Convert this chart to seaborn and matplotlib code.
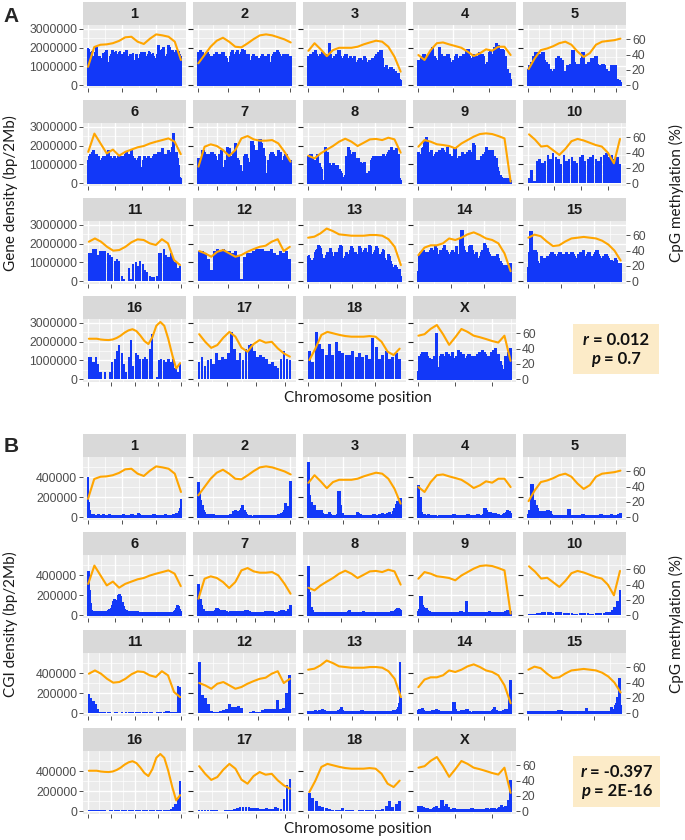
import numpy as np
import pandas as pd
import matplotlib
matplotlib.use("Agg")
import matplotlib.pyplot as plt
import seaborn as sns
from matplotlib.ticker import MaxNLocator
from matplotlib.patches import Rectangle

chroms = ['1', '2', '3', '4', '5', '6', '7', '8', '9', '10',
          '11', '12', '13', '14', '15', '16', '17', '18', 'X']

# ---- Panel A: gene density per 2 Mb bin (units of 100 kb) ----
gene_chr1 = [20,19,16,15,17,16,18,14,13,15, 16,17,20,19,14,12,13,15,10,9, 12,14,17,16,15,13,17,18,12,7,
             6,10,14,15,16,17,18,17,16,15, 17,18,16,15,12,13,17,18,16,14, 11,12,16,17,15,14,18,17,13,9,
             10,15,16,14,13,15,17,12,10,13, 15,16,14,13,11,12,15,16,17,15, 13,12,15,17,10,8,13,15,16,18,
             17,15,13,12,16,17,15,14,12,10, 13,15,16,21,20,18,16,15,17,19, 20,18,15,11,9,13,16,18,21,20,
             17,15,14,16,18,17,12,15,17,18, 16,14,17,18,16,15,13]
gene_chr2 = [17,16,18,17,15,16,14,17,16,15, 6,14,15,16,15,17,16,15,14,16, 17,13,15,14,5,12,15,17,18,16,
             15,17,18,16,15,17,19,18,16,15, 14,16,13,12,15,16,14,15,7,10, 14,15,16,13,15,14,15,16,12,11,
             15,16,17,16,18,17,16,14,15,16, 13,14,16,15,14,15]
gene_chr3 = [15,14,16,15,17,18,16,15,14,16, 17,15,16,14,15,22,16,14,13,15, 16,14,18,15,14,13,15,16,14,12,
             15,13,14,15,12,7,13,14,12,13, 15,14,12,11,13,12,14,13,15,16, 17,15,18,14,8,9,10,8,7,9,
             6,8,7,5,6,3,2]
gene_chr4 = [13,12,14,15,16,14,15,13,16,17, 20,15,14,13,9,20,16,14,15,13, 14,16,14,12,4,13,15,16,14,13,
             15,14,16,13,18,19,15,5,14,16, 15,13,15,17,14,16,15,11,9,12, 17,18,16,15,20,22,21,17,16,19,
             18,15,5,8,6,3]
gene_chr5 = [8,10,12,15,17,17,16,15,17,13, 12,11,8,7,7,8,14,15,14,13, 6,7,10,9,11,18,12,10,11,11,
             14,17,10,11,12,11,14,13,15,11, 10,9,11,10,8,7,6,10,9,10, 3,2,1]
gene_chr6 = [12,14,15,13,16,17,14,13,15,14, 12,7,11,13,14,13,12,14,15,17, 14,13,12,13,14,12,13,11,14,12,
             13,14,9,14,15,16,15,14,13,15, 17,14,13,12,11,10,13,14,6,5, 8,12,14,13,12,14,13,11,9,13,
             14,15,12,14,15,16,14,16,18,15, 14,13,15,14,17,16,14,19,26,15, 14,16,13,9,3,2]
gene_chr7 = [13,12,11,17,16,15,14,15,14,16, 15,14,12,11,15,17,6,8,12,19, 18,14,13,16,21,13,12,9,6,4,
             14,15,13,9,11,22,20,15,17,12, 23,21,18,14,3,5,12,15,16,15, 14,13,17,16,12,10,14,15,13,11,
             12]
gene_chr8 = [14,13,15,13,12,11,12,15,10,8, 7,1,0,19,16,8,10,9,8,10, 9,8,9,7,6,5,3,2,4,14,
             19,17,13,15,16,12,11,13,10,11, 9,10,11,5,4,5,6,12,13,14, 12,13,14,13,12,14,15,13,14,15,
             16,17,19,14,17,16,18,15,2,1]
gene_chr9 = [16,15,10,18,19,22,24,22,15,16, 17,14,7,15,16,14,17,9,18,17, 16,9,19,15,14,13,14,19,18,13,
             12,14,11,16,8,15,14,16,17,15, 16,21,20,12,9,11,12,14,13,15, 16,19,17,14,15,17,13,14,13,8,
             6,4,3,2,2,1,2,1,2,1]
gene_chr10 = [3,7,1,12,13,11,12,15,13,16, 14,13,10,15,12,13,14,12,11,14, 15,12,13,14,15,13,12,14,15,16,
              14,15,13,14,10]
gene_chr11 = [15,15,17,17,14,16,16,16,15,14, 13,11,12,11,3,1,0,7,1,9, 10,8,11,9,6,5,3,2,2,3,
              15,15,17,14,13,15,13,10,7,8]
gene_chr12 = [16,16,15,12,6,16,17,16,17,16, 16,15,16,14,1,13,15,15,16,17, 17,17,16,16,17,15,14,16,15,16,
              12]
gene_chr13 = [13,14,12,10,11,9,10,12,15,16, 17,16,19,18,17,14,12,11,9,12, 14,13,15,12,14,17,15,11,8,12,
              13,15,14,13,15,17,19,18,15,12, 9,10,13,15,14,13,12,14,16,18, 17,14,12,15,13,12,14,16,18,17,
              15,12,13,16,17,15,14,13,15,19, 18,14,12,13,15,14,16,18,17,13, 12,14,13,15,17,16,12,10,9,11,
              14,13,10,8,9,7,5,6,8,7, 4,5,6,3,2]
gene_chr14 = [5,14,15,14,16,15,14,13,15,16, 17,15,16,18,17,14,11,16,15,17, 19,16,15,14,13,15,16,15,11,18,
              14,12,22,27,18,16,15,13,15,18, 19,16,14,13,15,12,11,13,15,16, 20,19,17,15,14,12,13,11,10,13,
              14,12,10,9,7,8,6,7,8,8, 9]
gene_chr15 = [7,15,26,3,15,16,15,10,9,8, 13,12,10,9,12,13,10,14,15,13, 14,12,13,14,15,13,12,14,13,15,
              14,12,13,15,14,13,12,11,14,13, 15,14,16,12,13,14,15,12,11,13, 14,15,16,14,13,12,11,13,12,14,
              13,12,10,11,9,10,12,11,9,8, 9]
gene_chr16 = [12,12,9,12,8,4,0,4,0,4, 9,11,15,18,14,8,4,12,21,7, 14,13,11,11,12,11,16,24,0,1,
              10,11,10,9,11,9,11,6,4,8]
gene_chr17 = [9,12,7,10,11,8,14,10,12,11, 14,25,16,10,14,10,16,18,19,15, 12,13,12,11,8,9,7,6,11,15,
              11,10]
gene_chr18 = [15,9,25,19,16,13,19,13,20,15, 14,13,13,15,12,14,12,13,11,22, 17,11,13,15,11,12,14,11]
gene_chrX = [4,12,13,14,13,14,12,11,8,10, 9,12,24,6,1,12,13,11,12,14, 13,10,12,14,11,8,12,15,14,12,
             13,11,10,12,13,1,12,11,12,10, 13,14,12,15,14,13,11,12,10,14, 13,15,16,12,13,9,7,3,5,12,
             11,14,16]

# ---- Panel B: CGI density per 2 Mb bin (units of 10 kb) ----
cgi_chr1 = [40,14,6,3,2,1,1,1,2,1, 1,0,1,1,1,2,1,1,0,1, 1,1,1,2,1,1,1,0,1,1, 1,2,1,1,1,1,1,1,0,1,
            1,1,1,1,2,1,1,1,1,1, 1,1,2,1,1,1,1,1,1,1, 0,1,1,1,2,2,1,1,1,1, 1,1,1,2,3,2,1,1,1,1,
            1,1,1,1,1,2,1,1,1,1, 0,1,1,1,1,1,2,2,1,1, 1,1,1,1,1,1,0,1,1,1, 1,1,1,2,1,1,1,1,1,1,
            1,1,1,1,1,2,1,2,2,3, 2,3,2,3,5,8,18]
cgi_chr2 = [34,24,16,11,6,4,2,2,1,2, 1,1,2,1,1,1,1,0,1,1, 1,1,1,1,1,1,2,2,1,5, 6,5,5,4,6,8,11,6,4,2,
            1,1,1,0,0,0,1,1,1,1, 1,1,1,1,1,1,1,1,1,1, 1,1,1,1,1,2,1,2,3,4, 6,13,10,4,2,35]
cgi_chr3 = [54,21,14,8,11,6,5,6,6,6, 3,2,1,2,1,4,2,1,1,1, 1,2,25,11,3,1,1,0,1,1, 1,1,1,1,1,4,3,2,1,1,
            1,1,1,1,1,1,1,2,1,1, 1,2,1,3,2,1,1,3,4,1, 2,5,8,12,15,17,18]
cgi_chr4 = [31,19,4,2,2,1,1,2,1,1, 1,1,1,0,0,1,1,1,1,1, 1,1,1,1,1,2,1,1,1,1, 1,1,1,1,1,2,1,1,1,1,
            1,1,2,1,1,1,2,8,6,4, 3,4,3,2,3,2,2,1,1,1, 2,3,4,6,5,3]
cgi_chr5 = [2,6,32,16,11,8,5,5,4,5, 4,6,5,2,1,1,1,1,1,1, 1,1,1,7,1,0,1,1,1,1, 1,2,1,1,1,1,1,1,1,1,
            1,2,1,1,1,1,1,2,1,1, 1,2,3]
cgi_chr6 = [43,24,11,4,3,3,3,3,2,3, 3,3,2,3,3,3,3,3,3,4, 5,6,9,13,15,12,14,13,19,20, 18,12,8,5,4,4,3,3,3,3,
            3,3,2,3,3,3,2,2,2,2, 2,2,2,2,2,2,2,2,2,2, 2,1,2,2,2,2,2,1,2,2, 2,2,2,1,2,2,2,2,2,3,
            4,6,9,8,5,3]
cgi_chr7 = [30,15,9,5,3,3,3,3,3,2, 3,4,6,5,4,4,4,4,3,2, 2,3,3,3,3,3,3,3,3,3, 3,4,4,3,2,2,2,2,2,2,
            2,2,2,2,3,3,3,3,3,2, 2,2,2,3,4,4,3,3,2,5, 9]
cgi_chr8 = [48,22,7,4,2,2,2,2,2,2, 2,2,2,2,2,2,2,2,2,2, 2,2,2,2,2,2,2,2,2,2, 3,4,2,2,2,2,2,1,2,2,
            2,3,2,2,2,2,2,2,2,2, 2,2,2,1,2,2,2,2,2,2, 2,2,3,3,3,4,5,6,5,4]
cgi_chr9 = [3,5,18,9,7,6,6,4,3,2, 2,2,2,2,2,2,2,2,2,2, 2,2,2,2,2,2,2,2,2,2, 2,2,3,2,2,2,13,2,2,2,
            2,2,2,2,2,2,2,2,2,2, 2,2,2,3,2,2,2,2,2,2, 2,2,2,2,2,3,3,4,4,3]
cgi_chr10 = [1,1,1,2,2,3,3,3,3,2, 3,3,3,2,2,2,2,1,1,2, 2,2,2,1,1,2,2,2,2,3, 3,5,8,14,25]
cgi_chr11 = [19,15,12,9,4,1,1,1,1,1, 0,1,1,0,1,0,1,1,1,1, 1,1,1,1,1,1,1,1,0,1, 1,1,1,2,2,1,1,1,27,26]
cgi_chr12 = [51,18,15,9,2,1,1,2,3,4, 9,6,6,7,5,0,0,1,2,1, 1,3,4,4,4,4,13,4,5,20, 38]
cgi_chr13 = [1,1,1,1,1,1,1,1,2,1, 1,1,1,2,2,2,3,2,2,1, 1,1,1,1,1,1,1,1,1,1, 1,1,1,1,2,2,3,5,4,2,
             1,1,1,1,1,1,1,1,1,1, 1,1,1,1,1,1,1,1,1,1, 2,2,1,1,1,1,1,1,1,1, 1,1,1,1,1,1,1,1,1,1,
             1,1,1,1,0,0,1,1,1,1, 1,1,1,1,1,1,2,2,1,2, 3,5,9,51,14]
cgi_chr14 = [2,3,3,4,2,1,1,1,1,1, 1,2,1,2,3,2,1,1,1,1, 1,1,1,1,1,1,1,10,3,1, 0,1,1,2,1,1,2,3,1,1,
             0,0,1,1,1,1,1,1,1,1, 1,1,1,1,1,1,2,3,5,2, 1,1,1,1,1,2,3,2,3,13,32]
cgi_chr15 = [1,1,1,1,0,1,1,1,1,1, 1,1,1,1,1,1,1,1,1,1, 1,1,1,2,2,2,1,1,1,1, 1,1,1,1,1,1,1,1,1,1,
             1,1,1,1,4,1,1,1,1,1, 1,1,1,1,1,1,1,1,1,1, 1,1,1,5,1,3,7,9,15,34,7]
cgi_chr16 = [1,1,1,1,1,1,1,1,0,1, 1,1,1,1,1,1,1,1,1,1, 1,1,1,1,1,1,1,1,1,1, 1,1,1,1,1,2,4,7,12,30]
cgi_chr17 = [1,1,1,1,1,1,1,0,0,1, 1,1,2,3,4,4,4,4,3,3, 3,2,2,3,2,2,4,3,2,12,26,32]
cgi_chr18 = [18,13,10,5,4,3,2,1,1,1, 3,1,1,1,0,1,1,1,1,1, 1,1,2,5,10,4,7,10]
cgi_chrX = [4,3,4,3,2,1,2,1,1,1, 2,3,4,2,1,2,10,4,2,6, 3,1,1,1,2,1,1,1,1,1, 1,1,1,1,1,1,2,1,1,1,
            1,1,1,1,1,1,2,1,1,2, 1,2,1,1,2,3,5,3,2,4, 2,10,30]

# ---- CpG methylation (%) smoothed trend, sampled evenly along each chromosome ----
meth_chr1 = [24,50,53,53.5,55,58,62.7,63.5,57,54,61,66.6,65.3,63.5,57,33]
meth_chr2 = [28.6,39.5,50.4,58.3,62.2,57,50.4,49.6,54.8,60.5,65.3,66.6,65.3,62.7,60,56]
meth_chr3 = [45,55,47,38,46,49,49,49,50.4,53.5,56,58.3,57,50.4,37.3,17.7]
meth_chr4 = [39.5,33,46,55,56,53.5,51.3,49,44,38.2,41.7,47,45.2,50.4,50.4,39.5]
meth_chr5 = [21,35,46,48,51,55,57,53,44,37,42,53,57,58,59,61]
meth_chr6 = [41,65,52,39,44,36,41,44,47,48.7,52,54.4,56.5,58.7,54.4,38]
meth_chr7 = [21.6,47.8,50.9,48.7,43.4,35.6,43.4,58.7,61.8,57.4,55.7,55.7,56.5,52.2,41.3,28.1]
meth_chr8 = [36,32.5,39,44,48.7,54.4,58.3,54.4,48.7,53,57.4,58,56.5,59.6,57.4,40]
meth_chr9 = [47.8,56.5,54.4,51,50,48.7,45.7,52,56.5,61,64.4,65.3,64.4,61.8,58.7,2]
meth_chr10 = [64,57,48,49,43,37,45,55,58,56,53,50,48,40,26,58]
meth_chr11 = [51.7,56,51.7,45,40,40.8,45,51,54.8,54,49.6,47.4,55,49.6,27.7,21]
meth_chr12 = [39.5,36.4,32,38.6,40.8,36.4,32,34.3,38.6,42,45,46.5,51.7,55,39.5,45]
meth_chr13 = [57,58.3,62.7,69,65.7,61.4,60.5,59.6,59.6,59.6,60.5,60.5,59.6,55,45,21]
meth_chr14 = [34,44,47,47,49.6,56,54,57,61.4,64,60.5,56,54,49.6,36.4,13]
meth_chr15 = [57,61,59,52,46,47,52,56,57,58,57,56,53,48,40,27]
meth_chr16 = [53,53,53,52,51.5,51.3,52,54,57,61,64,65.5,63,57,50,46,55,70,75,70,53,32,14,21]
meth_chr17 = [59,49,41,44.7,54.4,62,55.7,41.3,36,46,51.3,47.8,49,40.4,33.8,29.5]
meth_chr18 = [25,40,58,62,60,58,56.5,55.7,55.7,55.7,56.5,55.7,49,36,31.6,40]
meth_chrX = [57,59,66,71,59,45,55,65.8,62,57,55,52.6,50,48,57,24]

gene_density = [gene_chr1, gene_chr2, gene_chr3, gene_chr4, gene_chr5, gene_chr6, gene_chr7,
                gene_chr8, gene_chr9, gene_chr10, gene_chr11, gene_chr12, gene_chr13, gene_chr14,
                gene_chr15, gene_chr16, gene_chr17, gene_chr18, gene_chrX]
cgi_density = [cgi_chr1, cgi_chr2, cgi_chr3, cgi_chr4, cgi_chr5, cgi_chr6, cgi_chr7, cgi_chr8,
               cgi_chr9, cgi_chr10, cgi_chr11, cgi_chr12, cgi_chr13, cgi_chr14, cgi_chr15,
               cgi_chr16, cgi_chr17, cgi_chr18, cgi_chrX]
methylation = [meth_chr1, meth_chr2, meth_chr3, meth_chr4, meth_chr5, meth_chr6, meth_chr7,
               meth_chr8, meth_chr9, meth_chr10, meth_chr11, meth_chr12, meth_chr13, meth_chr14,
               meth_chr15, meth_chr16, meth_chr17, meth_chr18, meth_chrX]

gene_unit = 100000
cgi_unit = 10000
bin_mb = 2

gene_ticks = [0, 1000000, 2000000, 3000000]
cgi_ticks = [0, 200000, 400000]
meth_ticks = [0, 20, 40, 60]

r_A, p_A = "0.012", "0.7"
r_B, p_B = "-0.397", "2E-16"

# ---------------- drawing ----------------
W, H = 685, 840
sns.set_style("white")
plt.rcParams['font.family'] = ['Liberation Sans', 'DejaVu Sans']

BLUE = '#1238F8'
ORANGE = '#FFA500'
PANEL_BG = '#EBEBEB'
STRIP_BG = '#D9D9D9'
TICK_COL = '#4D4D4D'
TITLE_FONT = ['Lato', 'DejaVu Sans']

fig = plt.figure(figsize=(W / 100, H / 100), dpi=100)


def rect(x0, y0, w, h):
    return [x0 / W, 1 - (y0 + h) / H, w / W, h / H]


def draw_panel(values_list, unit, yticks, ylim, top0):
    meth_lim = (-3.76, 78.9)
    for i, ch in enumerate(chroms):
        r, c = divmod(i, 5)
        x0 = 83 + 110 * c
        st = top0 + 98 * r
        # strip
        sax = fig.add_axes(rect(x0, st, 103, 23))
        sax.set_facecolor(STRIP_BG)
        sax.set_xticks([]); sax.set_yticks([])
        for s in sax.spines.values():
            s.set_visible(False)
        sax.text(0.5, 0.47, ch, ha='center', va='center', fontweight='bold',
                 fontsize=10.5, color='#1A1A1A', transform=sax.transAxes)
        # panel
        ax = fig.add_axes(rect(x0, st + 23, 103, 63))
        ax.set_facecolor(PANEL_BG)
        vals = np.asarray(values_list[i], dtype=float) * unit
        n = len(vals)
        pos = np.arange(n) * bin_mb + bin_mb / 2
        L = n * bin_mb
        df = pd.DataFrame({'pos': pos, 'val': vals})
        if n >= 50:
            sns.barplot(data=df, x='pos', y='val', native_scale=True, width=1.0,
                        color=BLUE, saturation=1, linewidth=0.3, edgecolor=BLUE,
                        antialiased=False, errorbar=None, ax=ax)
        else:
            sns.barplot(data=df, x='pos', y='val', native_scale=True, width=0.92,
                        color=BLUE, saturation=1, linewidth=0, errorbar=None, ax=ax)
        ax.set_xlim(-0.05 * L, 1.05 * L)
        ax.set_ylim(*ylim)
        ax.set_xlabel(''); ax.set_ylabel('')
        # x ticks
        loc = MaxNLocator(nbins=5, steps=[1, 2, 2.5, 5, 10])
        xt = [t for t in loc.tick_values(0, L) if -1e-9 <= t <= L + 1e-9]
        step = xt[1] - xt[0] if len(xt) > 1 else L
        ax.set_xticks(xt)
        ax.set_xticklabels([])
        xmin = [t + step / 2 for t in ([xt[0] - step] + xt)
                if -0.05 * L <= t + step / 2 <= 1.05 * L]
        ax.set_xticks(xmin, minor=True)
        # y ticks
        ax.set_yticks(yticks)
        ymin = [(yticks[k] + yticks[k + 1]) / 2 for k in range(len(yticks) - 1)]
        ymin.append(yticks[-1] + (yticks[1] - yticks[0]) / 2)
        ax.set_yticks([v for v in ymin if v < ylim[1]], minor=True)
        if c == 0:
            ax.set_yticklabels([str(int(v)) for v in yticks])
            ax.tick_params(axis='y', which='major', left=True, labelleft=True,
                           length=2.75, width=0.6, color='#333333', labelsize=8.8,
                           labelcolor=TICK_COL, pad=1.5)
        else:
            ax.tick_params(axis='y', which='major', left=False, labelleft=False)
        ax.tick_params(axis='x', which='major', bottom=True, length=2.75, width=0.6,
                       color='#333333')
        ax.tick_params(which='minor', length=0)
        ax.grid(which='major', color='white', linewidth=1.0)
        ax.grid(which='minor', color='white', linewidth=0.5)
        ax.set_axisbelow(True)
        for s in ax.spines.values():
            s.set_visible(False)
        # methylation on secondary axis
        ax2 = ax.twinx()
        m = np.asarray(methylation[i], dtype=float)
        mpos = np.linspace(pos[0], pos[-1], len(m))
        mdf = pd.DataFrame({'pos': mpos, 'meth': m})
        sns.lineplot(data=mdf, x='pos', y='meth', ax=ax2, color=ORANGE, linewidth=1.5)
        for ln in ax2.lines:
            ln.set_solid_joinstyle('round')
            ln.set_solid_capstyle('round')
        ax2.set_xlim(-0.05 * L, 1.05 * L)
        ax2.set_ylim(*meth_lim)
        ax2.set_xlabel(''); ax2.set_ylabel('')
        ax2.set_yticks(meth_ticks)
        for s in ax2.spines.values():
            s.set_visible(False)
        last_in_row = (c == 4) or (ch == chroms[-1])
        if last_in_row:
            ax2.set_yticklabels([str(v) for v in meth_ticks])
            ax2.tick_params(axis='y', right=True, labelright=True, length=2.75, width=0.6,
                            color='#333333', labelsize=8.8, labelcolor=TICK_COL, pad=1.5)
        else:
            ax2.tick_params(axis='y', right=False, labelright=False)
        ax2.grid(False)


draw_panel(gene_density, gene_unit, gene_ticks, (-153000, 3213000), 2)
draw_panel(cgi_density, cgi_unit, cgi_ticks, (-28550, 599550), 434)

# titles
fig.text(11 / W, 1 - 17 / H, 'A', fontsize=15, fontweight='heavy', ha='center', va='center')
fig.text(11 / W, 1 - 446 / H, 'B', fontsize=15, fontweight='heavy', ha='center', va='center')
for yc, label in [(193, 'Gene density (bp/2Mb)'), (624, 'CGI density (bp/2Mb)')]:
    fig.text(10 / W, 1 - yc / H, label, rotation=90, ha='center', va='center',
             fontsize=11, family=TITLE_FONT, color='#1A1A1A')
    fig.text(676 / W, 1 - yc / H, 'CpG methylation (%)', rotation=90, ha='center',
             va='center', fontsize=11, family=TITLE_FONT, color='#1A1A1A')
for yc in (398, 829):
    fig.text(358 / W, 1 - yc / H, 'Chromosome position', ha='center', va='center',
             fontsize=11, family=TITLE_FONT, color='#1A1A1A')

# correlation boxes
pairs = []
for (bx0, by0, bx1, by1, rv, pv) in [(573, 324, 659, 374, r_A, p_A), (573, 756, 660, 807, r_B, p_B)]:
    fig.patches.append(Rectangle((bx0 / W, 1 - by1 / H), (bx1 - bx0) / W, (by1 - by0) / H,
                                 transform=fig.transFigure, facecolor='#FCEBC8',
                                 edgecolor='none', zorder=0))
    xc = (bx0 + bx1) / 2
    for var, rest, yc in [('r', ' = ' + rv, by0 + 16), ('p', ' = ' + pv, by0 + 35)]:
        t1 = fig.text(0, 1 - yc / H, var, fontstyle='italic', fontweight='bold', fontsize=12,
                      family=TITLE_FONT, ha='left', va='center', color='#111111')
        t2 = fig.text(0, 1 - yc / H, rest, fontweight='bold', fontsize=12,
                      family=TITLE_FONT, ha='left', va='center', color='#111111')
        pairs.append((t1, t2, xc))

fig.canvas.draw()
rend = fig.canvas.get_renderer()
for t1, t2, xc in pairs:
    w1 = t1.get_window_extent(rend).width
    w2 = t2.get_window_extent(rend).width
    x0 = xc - (w1 + w2) / 2
    t1.set_x(x0 / W)
    t2.set_x((x0 + w1) / W)

fig.savefig('out.png', dpi=100)
